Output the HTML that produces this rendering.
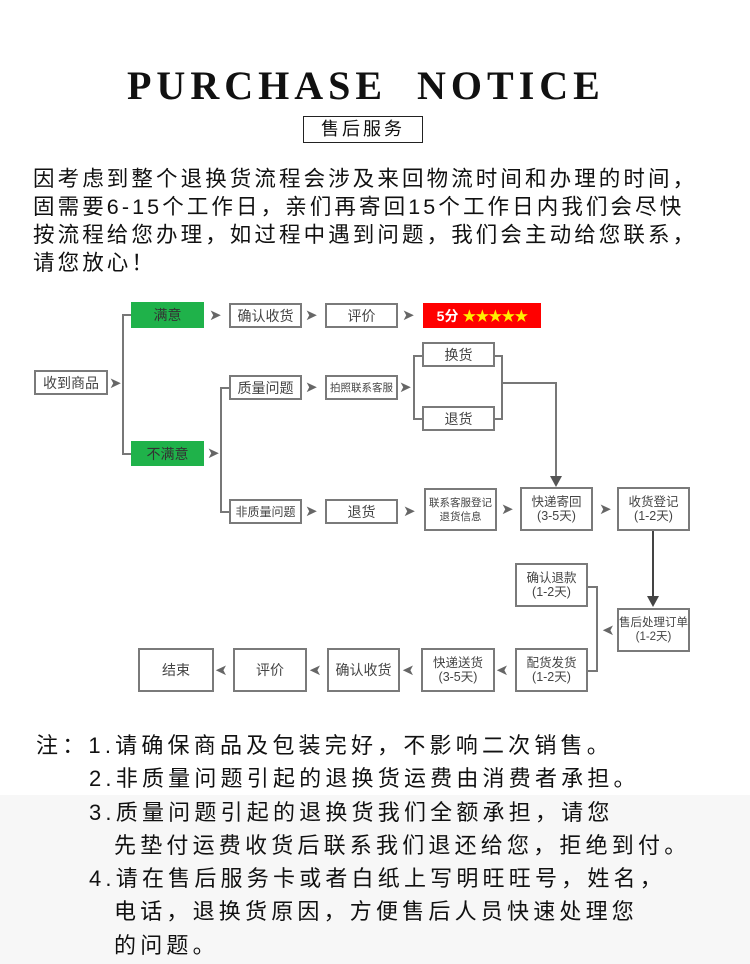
<!DOCTYPE html>
<html><head><meta charset="utf-8"><style>
*{margin:0;padding:0;box-sizing:border-box}
body{width:750px;height:964px;background:#fff;position:relative;overflow:hidden;font-family:"Liberation Sans","Noto Sans CJK SC",sans-serif;color:#111}
.gray{position:absolute;left:0;top:795px;width:750px;height:169px;background:#f7f7f7}
.title{position:absolute;left:127px;top:62px;width:480px;white-space:nowrap;font-family:"Liberation Serif",serif;font-weight:bold;font-size:40px;letter-spacing:5px;color:#111}
.sub{position:absolute;left:303px;top:116px;width:120px;height:27px;border:1.5px solid #222;font-size:18px;letter-spacing:3px;text-align:center;line-height:24px}
.intro{position:absolute;left:33px;top:165px;font-size:21.5px;line-height:28px;letter-spacing:3.1px;white-space:nowrap}
.b{position:absolute;border:2px solid #7a7a7a;background:#fff;color:#444;font-size:13.5px;display:flex;align-items:center;justify-content:center;text-align:center;line-height:14px;white-space:nowrap}
.g{background:#1fb24a;border-color:#1fb24a;color:#333;font-size:14px}
.r{background:#f00;border:none;color:#fff;font-weight:bold;font-size:14px}
.r span{color:#ffee00;letter-spacing:-1px}
.s{font-size:10.5px}
.a{position:absolute;color:#666;font-size:15px;line-height:15px}
.l{position:absolute;background:#777}
.notes{position:absolute;left:36px;top:729px;font-size:22px;line-height:33.3px;letter-spacing:4.2px;white-space:nowrap;color:#111}
.notes div{position:relative}
</style></head><body>
<div class="gray"></div>
<div class="title">PURCHASE&nbsp; NOTICE</div>
<div class="sub">售后服务</div>
<div class="intro">因考虑到整个退换货流程会涉及来回物流时间和办理的时间，<br>固需要6-15个工作日，亲们再寄回15个工作日内我们会尽快<br>按流程给您办理，如过程中遇到问题，我们会主动给您联系，<br>请您放心！</div>

<div class="l" style="left:122px;top:314px;width:2px;height:141px"></div>
<div class="l" style="left:122px;top:314px;width:9px;height:2px"></div>
<div class="l" style="left:122px;top:453px;width:9px;height:2px"></div>
<div class="l" style="left:220px;top:387px;width:2px;height:126px"></div>
<div class="l" style="left:220px;top:387px;width:9px;height:2px"></div>
<div class="l" style="left:220px;top:511px;width:9px;height:2px"></div>
<div class="l" style="left:413px;top:355px;width:2px;height:65px"></div>
<div class="l" style="left:413px;top:355px;width:9px;height:2px"></div>
<div class="l" style="left:413px;top:418px;width:9px;height:2px"></div>
<div class="l" style="left:495px;top:355px;width:8px;height:2px"></div>
<div class="l" style="left:495px;top:418px;width:8px;height:2px"></div>
<div class="l" style="left:501px;top:355px;width:2px;height:65px"></div>
<div class="l" style="left:501px;top:382px;width:56px;height:2px"></div>
<div class="l" style="left:555px;top:382px;width:2px;height:98px"></div>
<svg style="position:absolute;left:550px;top:476px" width="12" height="12"><polygon points="0,0 12,0 6,11" fill="#555"/></svg>
<div class="l" style="left:652px;top:531px;width:2px;height:68px;background:#444"></div>
<svg style="position:absolute;left:647px;top:596px" width="12" height="12"><polygon points="0,0 12,0 6,11" fill="#444"/></svg>
<div class="l" style="left:588px;top:586px;width:10px;height:2px"></div>
<div class="l" style="left:596px;top:586px;width:2px;height:86px"></div>
<div class="l" style="left:588px;top:670px;width:10px;height:2px"></div>

<div class="b" style="left:34px;top:370px;width:74px;height:25px;font-size:14px">收到商品</div>
<div class="b g" style="left:131px;top:302px;width:73px;height:26px">满意</div>
<div class="b" style="left:229px;top:303px;width:73px;height:25px;font-size:14px">确认收货</div>
<div class="b" style="left:325px;top:303px;width:73px;height:25px;font-size:14px">评价</div>
<div class="b r" style="left:423px;top:303px;width:118px;height:25px">5分&nbsp;<span>★★★★★</span></div>
<div class="b g" style="left:131px;top:441px;width:73px;height:25px">不满意</div>
<div class="b" style="left:229px;top:375px;width:73px;height:25px;font-size:14px">质量问题</div>
<div class="b s" style="left:325px;top:375px;width:73px;height:25px">拍照联系客服</div>
<div class="b" style="left:422px;top:342px;width:73px;height:25px;font-size:14px">换货</div>
<div class="b" style="left:422px;top:406px;width:73px;height:25px;font-size:14px">退货</div>
<div class="b" style="left:229px;top:499px;width:73px;height:25px;font-size:12px">非质量问题</div>
<div class="b" style="left:325px;top:499px;width:73px;height:25px;font-size:14px">退货</div>
<div class="b s" style="left:424px;top:488px;width:73px;height:43px">联系客服登记<br>退货信息</div>
<div class="b" style="left:520px;top:487px;width:73px;height:44px;font-size:12.5px">快递寄回<br>(3-5天)</div>
<div class="b" style="left:617px;top:487px;width:73px;height:44px;font-size:12.5px">收货登记<br>(1-2天)</div>
<div class="b" style="left:617px;top:608px;width:73px;height:44px;font-size:11.5px">售后处理订单<br>(1-2天)</div>
<div class="b" style="left:515px;top:563px;width:73px;height:44px;font-size:12.5px">确认退款<br>(1-2天)</div>
<div class="b" style="left:515px;top:648px;width:73px;height:44px;font-size:12.5px">配货发货<br>(1-2天)</div>
<div class="b" style="left:421px;top:648px;width:74px;height:44px;font-size:12.5px">快递送货<br>(3-5天)</div>
<div class="b" style="left:327px;top:648px;width:73px;height:44px;font-size:14px">确认收货</div>
<div class="b" style="left:233px;top:648px;width:74px;height:44px;font-size:14px">评价</div>
<div class="b" style="left:138px;top:648px;width:76px;height:44px;font-size:14px">结束</div>

<div class="a" style="left:109px;top:376px">➤</div>
<div class="a" style="left:209px;top:308px">➤</div>
<div class="a" style="left:305px;top:308px">➤</div>
<div class="a" style="left:402px;top:308px">➤</div>
<div class="a" style="left:207px;top:446px">➤</div>
<div class="a" style="left:305px;top:380px">➤</div>
<div class="a" style="left:399px;top:380px">➤</div>
<div class="a" style="left:305px;top:504px">➤</div>
<div class="a" style="left:403px;top:504px">➤</div>
<div class="a" style="left:501px;top:502px">➤</div>
<div class="a" style="left:599px;top:502px">➤</div>
<div class="a" style="left:602px;top:623px;transform:scaleX(-1)">➤</div>
<div class="a" style="left:496px;top:663px;transform:scaleX(-1)">➤</div>
<div class="a" style="left:402px;top:663px;transform:scaleX(-1)">➤</div>
<div class="a" style="left:309px;top:663px;transform:scaleX(-1)">➤</div>
<div class="a" style="left:215px;top:663px;transform:scaleX(-1)">➤</div>

<div class="notes">
<div>注：1.请确保商品及包装完好，不影响二次销售。</div>
<div style="left:53px">2.非质量问题引起的退换货运费由消费者承担。</div>
<div style="left:53px">3.质量问题引起的退换货我们全额承担，请您</div>
<div style="left:78px">先垫付运费收货后联系我们退还给您，拒绝到付。</div>
<div style="left:53px">4.请在售后服务卡或者白纸上写明旺旺号，姓名，</div>
<div style="left:78px">电话，退换货原因，方便售后人员快速处理您</div>
<div style="left:78px">的问题。</div>
</div>
</body></html>
